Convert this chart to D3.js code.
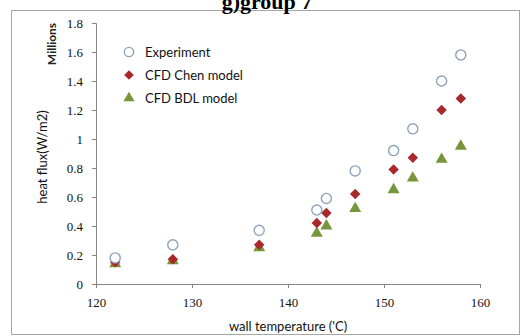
<!DOCTYPE html>
<html>
<head>
<meta charset="utf-8">
<script src="https://cdn.jsdelivr.net/npm/d3@7"></script>
<style>
  html, body { margin: 0; padding: 0; background: #fff; }
  svg { display: block; }
</style>
</head>
<body>
<svg id="chart" width="522" height="336"></svg>
<script>
// Wall temperature (°C) for each measurement
const temperatures = [122, 128, 137, 143, 144, 147, 151, 153, 156, 158];
// Heat flux in millions of W/m2
const experiment = [0.18, 0.27, 0.37, 0.51, 0.59, 0.78, 0.92, 1.07, 1.40, 1.58];
const chenModel  = [0.15, 0.17, 0.27, 0.42, 0.49, 0.62, 0.79, 0.87, 1.20, 1.28];
const bdlModel   = [0.14, 0.16, 0.25, 0.35, 0.40, 0.52, 0.65, 0.73, 0.86, 0.95];
const xTicks = [120, 130, 140, 150, 160];
const yTicks = [0, 0.2, 0.4, 0.6, 0.8, 1, 1.2, 1.4, 1.6, 1.8];
const seriesNames = ["Experiment", "CFD Chen model", "CFD BDL model"];

const svg = d3.select("#chart");

// outer frame of the plot area
svg.append("rect")
  .attr("x", 11.5).attr("y", 10.5)
  .attr("width", 508).attr("height", 324)
  .attr("fill", "none").attr("stroke", "#a6a6a6");

// title
svg.append("text")
  .attr("x", 267).attr("y", 9)
  .attr("text-anchor", "middle")
  .attr("font-family", "Liberation Serif, serif")
  .attr("font-weight", "bold")
  .attr("font-size", 22)
  .text("g)group 7");

const x = d3.scaleLinear().domain([120, 160]).range([96, 480]);
const y = d3.scaleLinear().domain([0, 1.8]).range([284, 23]);

const tickFont = "Liberation Serif, serif";
const labelFont = "Lato, 'Open Sans', sans-serif";

const xAxis = svg.append("g")
  .attr("transform", `translate(0,${y(0)})`)
  .call(d3.axisBottom(x).tickValues(xTicks).tickSize(4).tickPadding(10).tickFormat(d3.format("d")));
const yAxis = svg.append("g")
  .attr("transform", `translate(${x(120)},0)`)
  .call(d3.axisLeft(y).tickValues(yTicks).tickSize(4).tickPadding(9).tickFormat(d => d3.format("")(+d.toFixed(1))));

[xAxis, yAxis].forEach(g => {
  g.selectAll("path.domain").attr("stroke", "#868686");
  g.selectAll(".tick line").attr("stroke", "#868686");
  g.selectAll(".tick text")
    .attr("font-family", tickFont)
    .attr("font-size", 13)
    .attr("fill", "#111");
});
yAxis.selectAll(".tick text").attr("dy", "0.35em");

// axis titles
svg.append("text")
  .attr("x", 288).attr("y", 331)
  .attr("text-anchor", "middle")
  .attr("font-family", labelFont)
  .attr("font-size", 13)
  .attr("fill", "#111")
  .text("wall temperature ('C)");

svg.append("text")
  .attr("transform", "translate(47,157) rotate(-90)")
  .attr("text-anchor", "middle")
  .attr("font-family", labelFont)
  .attr("font-size", 13)
  .attr("fill", "#111")
  .text("heat flux(W/m2)");

svg.append("text")
  .attr("transform", "translate(56,44) rotate(-90)")
  .attr("text-anchor", "middle")
  .attr("font-family", labelFont)
  .attr("font-weight", "bold")
  .attr("font-size", 12)
  .attr("fill", "#222")
  .text("Millions");

// marker styles per series
const styles = [
  { type: d3.symbolCircle,   size: 80, fill: "#ffffff", stroke: "#8ea3ba", sw: 1.4 },
  { type: d3.symbolDiamond2, size: 70, fill: "#a8282b", stroke: "none",    sw: 0 },
  { type: d3.symbolTriangle, size: 62, fill: "#77953a", stroke: "none",    sw: 0 }
];
const allSeries = [experiment, chenModel, bdlModel];

// draw in reverse so circles sit on top like the legend order
[2, 1, 0].forEach(i => {
  const st = styles[i];
  svg.append("g").selectAll("path")
    .data(temperatures.map((t, k) => [t, allSeries[i][k]]))
    .join("path")
    .attr("transform", d => `translate(${x(d[0])},${y(d[1])})`)
    .attr("d", d3.symbol().type(st.type).size(st.size))
    .attr("fill", st.fill)
    .attr("stroke", st.stroke)
    .attr("stroke-width", st.sw);
});

// legend
const legend = svg.append("g").attr("transform", "translate(129,52)");
seriesNames.forEach((name, i) => {
  const st = styles[i];
  const row = legend.append("g").attr("transform", `translate(0,${i * 23})`);
  row.append("path")
    .attr("d", d3.symbol().type(st.type).size(st.size * 0.85))
    .attr("fill", st.fill)
    .attr("stroke", st.stroke)
    .attr("stroke-width", st.sw);
  row.append("text")
    .attr("x", 16).attr("dy", "0.35em")
    .attr("font-family", labelFont)
    .attr("font-size", 13)
    .attr("fill", "#111")
    .text(name);
});
</script>
</body>
</html>
